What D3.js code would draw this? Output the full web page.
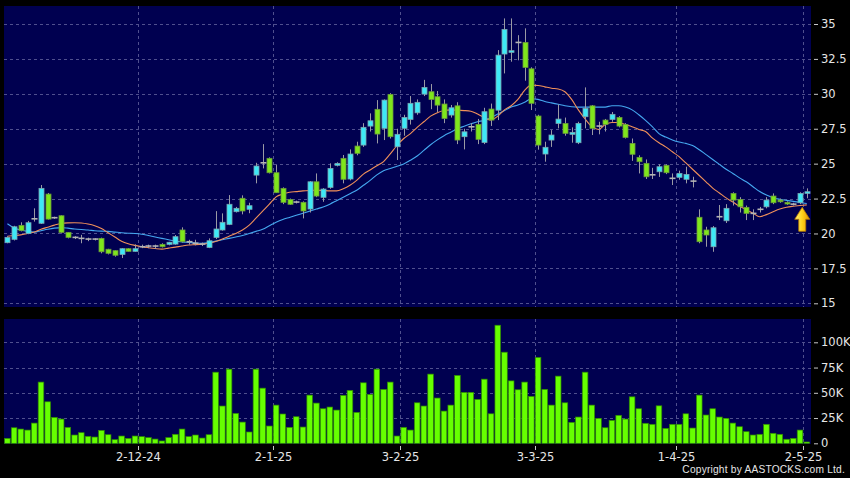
<!DOCTYPE html>
<html><head><meta charset="utf-8">
<script src="https://cdn.jsdelivr.net/npm/d3@7"></script>
<style>html,body{margin:0;padding:0;background:#000;} svg{display:block}</style>
</head><body><svg id="c" width="850" height="478"></svg>
<script>
const dates = [
"2024-11-04","2024-11-05","2024-11-06","2024-11-07","2024-11-08","2024-11-11","2024-11-12","2024-11-13","2024-11-14","2024-11-15",
"2024-11-18","2024-11-19","2024-11-20","2024-11-21","2024-11-22","2024-11-25","2024-11-26","2024-11-27","2024-11-28","2024-11-29",
"2024-12-02","2024-12-03","2024-12-04","2024-12-05","2024-12-06","2024-12-09","2024-12-10","2024-12-11","2024-12-12","2024-12-13",
"2024-12-16","2024-12-17","2024-12-18","2024-12-19","2024-12-20","2024-12-23","2024-12-24","2024-12-27","2024-12-30","2024-12-31",
"2025-01-02","2025-01-03","2025-01-06","2025-01-07","2025-01-08","2025-01-09","2025-01-10","2025-01-13","2025-01-14","2025-01-15",
"2025-01-16","2025-01-17","2025-01-20","2025-01-21","2025-01-22","2025-01-23","2025-01-24","2025-01-27","2025-01-28",
"2025-02-03","2025-02-04","2025-02-05","2025-02-06","2025-02-07","2025-02-10","2025-02-11","2025-02-12","2025-02-13","2025-02-14",
"2025-02-17","2025-02-18","2025-02-19","2025-02-20","2025-02-21","2025-02-24","2025-02-25","2025-02-26","2025-02-27","2025-02-28",
"2025-03-03","2025-03-04","2025-03-05","2025-03-06","2025-03-07","2025-03-10","2025-03-11","2025-03-12","2025-03-13","2025-03-14",
"2025-03-17","2025-03-18","2025-03-19","2025-03-20","2025-03-21","2025-03-24","2025-03-25","2025-03-26","2025-03-27","2025-03-28","2025-03-31",
"2025-04-01","2025-04-02","2025-04-03","2025-04-07","2025-04-08","2025-04-09","2025-04-10","2025-04-11","2025-04-14","2025-04-15",
"2025-04-16","2025-04-17","2025-04-22","2025-04-23","2025-04-24","2025-04-25","2025-04-28","2025-04-29","2025-04-30","2025-05-02"];

const openP = [19.34,19.58,20.58,20.0,21.05,20.73,22.82,21.13,21.27,20.08,
19.72,19.65,19.6,19.6,19.65,18.87,18.77,18.5,18.91,18.72,
19.05,19.1,19.1,19.22,19.22,19.24,20.25,19.41,19.3,19.24,
19.0,19.72,20.25,20.65,21.56,22.52,21.73,24.18,25.06,25.38,
24.35,23.23,22.44,22.25,22.23,21.75,23.7,22.59,23.3,24.88,
25.38,23.9,26.26,26.33,27.69,28.89,27.53,29.96,26.21,27.53,
28.17,28.64,29.98,30.15,29.79,29.27,28.48,29.14,26.93,27.64,
27.81,26.52,28.91,28.83,32.85,32.97,33.68,33.68,31.79,28.41,
25.69,26.69,27.88,27.88,27.1,26.5,28.36,29.14,27.69,28.12,
28.17,28.31,27.81,26.45,25.45,25.02,24.2,24.42,24.88,23.95,
24.02,23.88,23.75,21.16,20.25,19.05,21.2,20.91,22.87,22.44,
21.87,21.44,21.73,21.91,22.68,22.39,22.23,22.1,22.2,22.87];

const highP = [19.8,20.55,20.8,20.9,21.8,23.47,22.9,21.2,21.3,20.1,
19.8,19.9,19.7,19.65,19.7,18.9,18.8,18.95,18.95,19.22,
19.2,19.2,19.2,19.3,19.4,19.89,20.44,19.55,19.55,19.35,
19.65,21.6,21.44,22.75,21.9,22.73,22.2,25.06,26.4,25.45,
24.9,23.3,22.5,22.35,22.3,23.75,24.3,23.25,25.02,25.1,
25.62,26.02,26.57,27.9,28.6,29.55,29.6,30.05,27.5,28.5,
29.84,29.6,31.0,30.7,30.2,29.6,29.2,29.4,27.5,27.9,
28.2,29.0,29.3,33.13,35.4,35.4,34.2,34.69,31.9,28.5,
26.57,27.4,29.24,28.3,27.6,28.0,30.46,29.2,28.0,28.2,
28.7,28.4,27.9,26.8,25.6,25.3,24.7,24.95,24.95,24.3,
24.5,24.78,24.06,21.73,20.48,20.53,22.04,22.1,22.95,22.6,
22.0,21.73,21.9,22.6,22.87,22.5,22.3,22.2,22.95,23.23];

const lowP = [19.3,19.5,20.15,19.95,20.85,20.68,21.0,21.05,20.0,19.65,
19.6,19.3,19.45,19.5,18.58,18.5,18.34,18.24,18.7,18.7,
18.95,18.95,18.9,19.0,19.15,19.2,19.35,19.2,19.15,19.1,
18.95,19.6,20.2,20.6,21.5,21.37,21.45,23.59,24.66,24.3,
22.9,22.1,22.05,22.15,21.08,21.5,22.6,22.27,23.2,24.8,
23.59,23.8,25.6,26.2,27.3,26.45,26.69,26.8,25.26,27.0,
27.8,28.5,29.84,28.9,28.7,27.9,28.3,26.4,26.02,27.3,
26.4,26.4,27.7,28.12,31.46,32.3,32.4,30.94,28.84,26.0,
25.14,26.2,27.53,27.0,26.5,26.4,27.53,27.05,27.1,27.3,
28.0,27.6,26.8,25.2,24.3,23.9,23.9,24.05,24.25,23.47,
23.85,23.59,23.3,19.3,19.05,18.69,20.96,20.75,22.0,21.5,
20.96,20.96,21.5,21.8,22.1,22.2,22.05,22.0,22.1,22.52];

const closeP = [19.72,20.48,20.2,20.77,21.05,23.23,21.03,21.13,20.08,19.72,
19.72,19.65,19.6,19.6,18.69,18.58,18.44,18.91,18.72,18.91,
19.05,19.1,19.1,19.05,19.37,19.77,19.41,19.41,19.3,19.24,
19.48,20.32,20.8,22.09,21.8,21.61,21.99,24.83,25.06,24.35,
22.92,22.23,22.09,22.25,21.61,23.7,22.68,23.18,24.66,25.02,
23.88,25.69,25.74,27.6,28.07,27.12,29.55,26.93,27.1,28.31,
29.32,29.39,30.46,29.6,29.19,28.24,29.0,26.69,27.28,27.64,
26.74,28.72,28.12,32.77,34.61,33.09,33.68,31.89,29.32,26.33,
26.17,27.05,28.19,27.17,27.24,27.88,28.96,27.53,27.69,27.81,
28.53,27.69,26.88,25.67,25.14,24.06,24.2,24.78,24.35,23.95,
24.3,24.23,23.75,19.41,19.89,20.41,21.2,21.8,22.39,21.91,
21.44,21.44,21.73,22.39,22.2,22.27,22.11,22.1,22.87,22.99];

const volumeK = [4.9,15.4,14.1,13.1,20,60.6,41.1,25.7,24,15.8,
8.2,10.5,6.9,6.2,12.8,8.5,3.6,7.2,4.9,7.2,
6.6,5.6,4.2,2.3,5.6,8.9,14.1,6.6,8.2,5.2,
8.5,70.4,36.9,73.4,29.6,21,11.2,73.4,54.6,17.1,
37.8,29,15.8,26.3,16.1,47.7,39.8,34.2,35.9,32.9,
47.4,52.4,30.6,59.9,48.4,73.4,53.4,60.6,7.2,15.8,
13.1,40.1,36.9,68.5,44.8,31.9,37.8,67.2,50.4,50.4,
43.5,63.5,29.2,116.9,90.2,61.8,53,60.6,46.4,85,
53.4,37.8,66.5,40.1,20.7,26,70.4,37.8,24.7,15.4,
22.7,27.7,24,46,34.2,19.8,18.8,37.1,14.8,18.8,
18.8,29.2,15.1,47.7,28,34.2,26,24.7,20,16.4,
11.5,8.2,8.9,18.8,9.9,8.9,4,4.9,13.1,1.3];

const ma10 = [19.8,19.85,19.9,20.0,20.1,20.3,20.45,20.6,20.72,20.76,
20.77,20.75,20.68,20.56,20.35,20.05,19.75,19.45,19.27,19.15,
19.05,18.98,18.92,18.88,18.95,19.02,19.1,19.17,19.2,19.24,
19.3,19.42,19.6,19.8,20.0,20.25,20.6,21.1,21.6,22.1,
22.62,22.82,22.95,23.0,23.05,23.08,23.1,23.08,23.05,23.05,
23.2,23.45,23.8,24.25,24.55,24.85,25.15,25.7,26.3,26.8,
27.15,27.6,28.0,28.4,28.65,28.8,28.85,28.82,28.8,28.75,
28.55,28.3,28.12,28.4,28.85,29.15,29.6,30.25,30.62,30.6,
30.5,30.4,30.35,30.15,29.6,28.85,28.2,27.65,27.45,27.8,
27.95,27.95,27.8,27.65,27.45,27.3,26.85,26.5,26.2,25.85,
25.5,25.05,24.6,24.15,23.7,23.25,22.9,22.55,22.25,21.95,
21.7,21.45,21.2,21.35,21.56,21.75,21.88,21.95,22.0,22.05];

const ma20 = [20.7,20.4,20.25,20.15,20.1,20.2,20.3,20.38,20.42,20.38,
20.32,20.28,20.25,20.2,20.17,20.15,20.1,20.05,20.02,20.0,
19.95,19.85,19.75,19.65,19.55,19.45,19.4,19.36,19.32,19.3,
19.35,19.45,19.55,19.65,19.75,19.85,20.0,20.15,20.3,20.55,
20.8,21.0,21.15,21.3,21.45,21.6,21.75,21.9,22.1,22.35,
22.6,22.85,23.1,23.45,23.8,24.2,24.5,24.65,24.82,24.98,
25.25,25.55,25.95,26.35,26.7,27.0,27.25,27.5,27.68,27.85,
28.0,28.1,28.3,28.55,28.8,29.05,29.2,29.4,29.65,29.6,
29.45,29.35,29.25,29.15,29.08,29.05,29.05,29.05,29.05,29.05,
29.15,29.15,29.05,28.85,28.5,28.1,27.65,27.15,26.9,26.7,
26.55,26.45,26.3,26.0,25.65,25.3,24.95,24.6,24.3,23.98,
23.7,23.35,23.0,22.75,22.56,22.45,22.37,22.3,22.22,22.15];

const priceTicks = [15, 17.5, 20, 22.5, 25, 27.5, 30, 32.5, 35];
const volumeTicks = [0, 25, 50, 75, 100];
const volumeTickLabels = ["0", "25K", "50K", "75K", "100K"];
const tickDates = ["2024-12-02","2025-01-02","2025-02-03","2025-03-03","2025-04-01","2025-05-02"];
const tickLabels = ["2-12-24","2-1-25","3-2-25","3-3-25","1-4-25","2-5-25"];
const copyright = "Copyright by AASTOCKS.com Ltd.";

const svg = d3.select("#c");
const W = 850, H = 478;
const plotL = 4, plotR = 811;
const pTop = 6, pBot = 307, vTop = 319, vBot = 444;
const navy = "#000050";
const gridCol = "#50508e";

svg.append("rect").attr("width", W).attr("height", H).attr("fill", "#000");
svg.append("rect").attr("x", plotL).attr("y", pTop).attr("width", plotR - plotL).attr("height", pBot - pTop).attr("fill", navy);
svg.append("rect").attr("x", plotL).attr("y", vTop).attr("width", plotR - plotL).attr("height", vBot - vTop).attr("fill", navy);

const x = d3.scaleBand().domain(dates).range([4.04, 810.1]).padding(0);
const bw = x.bandwidth();
const cx = d => x(d) + bw / 2;
const y = d3.scaleLinear().domain([15, 35]).range([303.3, 24]);
const v = d3.scaleLinear().domain([0, 100]).range([443.3, 342.3]);

// grid
const grid = svg.append("g").attr("stroke", gridCol).attr("stroke-width", 1).attr("stroke-dasharray", "3,3").attr("shape-rendering", "crispEdges");
priceTicks.forEach(t => grid.append("line").attr("x1", plotL).attr("x2", plotR).attr("y1", Math.round(y(t)) + 0.5).attr("y2", Math.round(y(t)) + 0.5));
volumeTicks.filter(t => t > 0).forEach(t => grid.append("line").attr("x1", plotL).attr("x2", plotR).attr("y1", Math.round(v(t)) + 0.5).attr("y2", Math.round(v(t)) + 0.5));
tickDates.forEach(d => {
  const xx = Math.round(x(d)) + 0.5;
  grid.append("line").attr("x1", xx).attr("x2", xx).attr("y1", pTop).attr("y2", pBot);
  grid.append("line").attr("x1", xx).attr("x2", xx).attr("y1", vTop).attr("y2", vBot);
});

// MA lines
const idx = d3.range(dates.length);
const line = arr => d3.line().x(i => cx(dates[i])).y(i => y(arr[i])).curve(d3.curveMonotoneX)(idx);
svg.append("path").attr("d", line(ma20)).attr("fill", "none").attr("stroke", "#45a8f0").attr("stroke-width", 1.1);
svg.append("path").attr("d", line(ma10)).attr("fill", "none").attr("stroke", "#f0905a").attr("stroke-width", 1.1);

// candles
const cg = svg.append("g");
const bodyW = 5;
idx.forEach(i => {
  const d = dates[i], o = openP[i], c = closeP[i], h = highP[i], l = lowP[i];
  const xc = Math.round(cx(d)) + 0.5;
  cg.append("line").attr("x1", xc).attr("x2", xc).attr("y1", y(h)).attr("y2", y(l))
    .attr("stroke", "#9a9aa4").attr("stroke-width", 1);
  if (o === c) {
    cg.append("line").attr("x1", xc - bodyW / 2 - 0.5).attr("x2", xc + bodyW / 2 + 0.5).attr("y1", y(o)).attr("y2", y(o))
      .attr("stroke", "#b4b4b4").attr("stroke-width", 1.6);
  } else {
    const up = c > o;
    const top = y(Math.max(o, c)), bot = y(Math.min(o, c));
    cg.append("rect").attr("x", xc - bodyW / 2).attr("y", top).attr("width", bodyW).attr("height", Math.max(1.5, bot - top))
      .attr("fill", up ? "#3ee8f6" : "#7fe61c").attr("stroke", up ? "#7aa6b0" : "#6a9a3a").attr("stroke-width", 0.8);
  }
});

// volume bars
svg.append("g").selectAll("rect").data(idx).join("rect")
  .attr("x", i => cx(dates[i]) - 2.8).attr("width", 5.6)
  .attr("y", i => v(volumeK[i])).attr("height", i => v(0) - v(volumeK[i]))
  .attr("fill", "#66ff00").attr("stroke", "#2f8a00").attr("stroke-width", 0.7);

// arrow at last bar
const last = dates[dates.length - 1];
const ax = cx(last) - 4.5, ay = y(lowP[lowP.length - 1]) + 9;
const defs = svg.append("defs");
const gr = defs.append("linearGradient").attr("id", "ag").attr("x1", "0").attr("x2", "1").attr("y1", "0").attr("y2", "0");
gr.append("stop").attr("offset", "0").attr("stop-color", "#fff27a");
gr.append("stop").attr("offset", "0.5").attr("stop-color", "#ffd21a");
gr.append("stop").attr("offset", "1").attr("stop-color", "#e09000");
svg.append("path")
  .attr("d", `M${ax},${ay} L${ax + 7.5},${ay + 12} L${ax + 3.5},${ay + 12} L${ax + 3.5},${ay + 24} L${ax - 3.5},${ay + 24} L${ax - 3.5},${ay + 12} L${ax - 7.5},${ay + 12} Z`)
  .attr("fill", "url(#ag)").attr("stroke", "#b87a00").attr("stroke-width", 0.8);

// right axes
const fontFam = "'DejaVu Sans', sans-serif";
const pa = svg.append("g").attr("transform", `translate(${plotR + 3},0)`)
  .call(d3.axisRight(y).tickValues(priceTicks).tickSize(4).tickPadding(3).tickFormat(d => String(d)));
const va = svg.append("g").attr("transform", `translate(${plotR + 3},0)`)
  .call(d3.axisRight(v).tickValues(volumeTicks).tickSize(4).tickPadding(3).tickFormat((d, k) => volumeTickLabels[k]));
[pa, va].forEach(g => {
  g.select(".domain").remove();
  g.selectAll(".tick line").attr("stroke", "#c8c8c8");
  g.selectAll(".tick text").attr("fill", "#e6e6e6").attr("font-size", 11.5).attr("font-family", fontFam);
});

// bottom date axis
const xa = svg.append("g");
tickDates.forEach((d, k) => {
  const xx = Math.round(x(d)) + 0.5;
  xa.append("line").attr("x1", xx).attr("x2", xx).attr("y1", 446).attr("y2", 450).attr("stroke", "#c8c8c8");
  xa.append("text").attr("x", xx).attr("y", 460.5).attr("text-anchor", "middle")
    .attr("fill", "#e6e6e6").attr("font-size", 11.5).attr("font-family", fontFam).text(tickLabels[k]);
});

svg.append("text").attr("x", 845).attr("y", 473).attr("text-anchor", "end")
  .attr("fill", "#e6e6e6").attr("font-size", 10.2).attr("font-family", "'Liberation Sans', Arial, sans-serif")
  .attr("letter-spacing", 0.2).text(copyright);
</script>
</body></html>
